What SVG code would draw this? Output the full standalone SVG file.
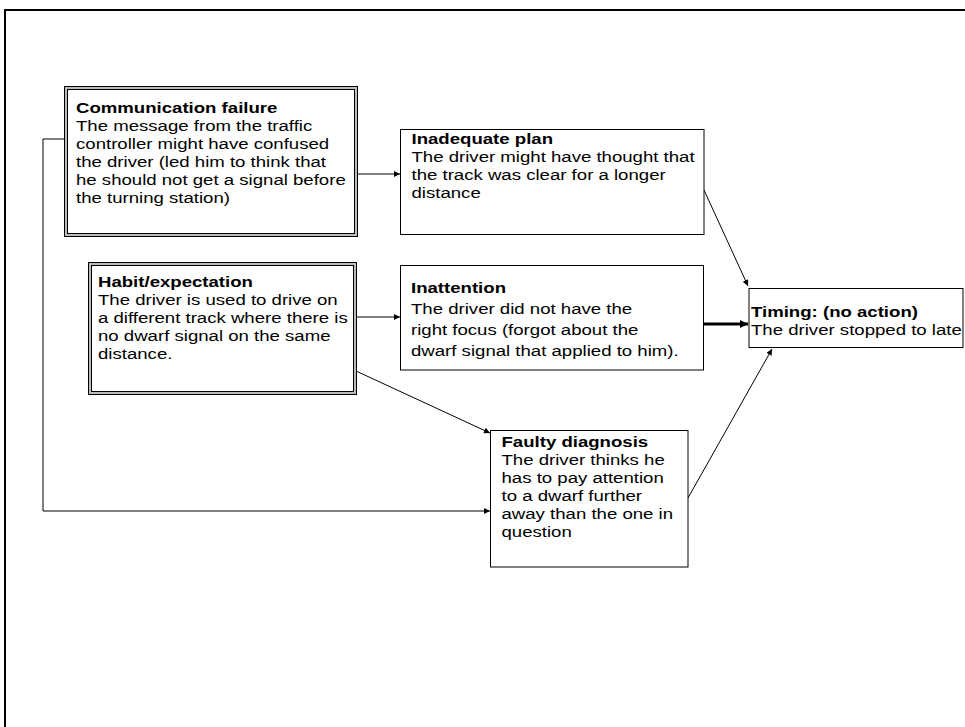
<svg xmlns="http://www.w3.org/2000/svg" width="965" height="727" viewBox="0 0 965 727">
  <style>
    .frame { fill: none; stroke: #000; stroke-width: 2; }
    .box { fill: #fff; stroke: #000; stroke-width: 1; }
    .dbl-out { fill: #fff; stroke: #000; stroke-width: 4; }
    .dbl-mid { fill: none; stroke: #bbb; stroke-width: 2; }
    .conn { fill: none; stroke: #000; stroke-width: 1; marker-end: url(#arrow); }
    .conn-thick { fill: none; stroke: #000; stroke-width: 3; marker-end: url(#arrow-thick); }
    text { font-family: "Liberation Sans", Arial, sans-serif; font-size: 15.5px; fill: #000; }
    .title { font-weight: bold; }
  </style>
  <defs>
    <marker id="arrow" viewBox="0 0 10 10" refX="10" refY="5" markerWidth="8" markerHeight="6" markerUnits="userSpaceOnUse" orient="auto">
      <path d="M0,0 L10,5 L0,10 z" fill="#000"/>
    </marker>
    <marker id="arrow-thick" viewBox="0 0 10 10" refX="10" refY="5" markerWidth="9" markerHeight="8" markerUnits="userSpaceOnUse" orient="auto">
      <path d="M0,0 L10,5 L0,10 z" fill="#000"/>
    </marker>
  </defs>

  <!-- page frame -->
  <path class="frame" d="M5,727 V10 H965"/>

  <!-- connectors -->
  <g id="connectors">
    <path class="conn" d="M357,174 H400"/>
    <path class="conn" d="M356,317 H400"/>
    <path class="conn" d="M356,371 L490,433"/>
    <path class="conn" d="M65,139 H43 V511 H490"/>
    <path class="conn" d="M704,190 L748,286"/>
    <path class="conn-thick" d="M703.5,324 H748"/>
    <path class="conn" d="M688,498 L772,349"/>
  </g>

  <g id="communication-failure">
    <rect class="dbl-out" x="66" y="88" width="290" height="147"/>
    <rect class="dbl-mid" x="66" y="88" width="290" height="147"/>
    <g transform="translate(76,0) scale(1.2,1)">
      <text class="title" x="0" y="113">Communication failure</text>
      <text x="0" y="131">The message from the traffic</text>
      <text x="0" y="149">controller might have confused</text>
      <text x="0" y="167">the driver (led him to think that</text>
      <text x="0" y="185">he should not get a signal before</text>
      <text x="0" y="203">the turning station)</text>
    </g>
  </g>

  <g id="inadequate-plan">
    <rect class="box" x="400.5" y="129.5" width="303.5" height="105"/>
    <g transform="translate(411.5,0) scale(1.2,1)">
      <text class="title" x="0" y="144">Inadequate plan</text>
      <text x="0" y="162">The driver might have thought that</text>
      <text x="0" y="180">the track was clear for a longer</text>
      <text x="0" y="198">distance</text>
    </g>
  </g>

  <g id="habit-expectation">
    <rect class="dbl-out" x="90" y="264" width="265" height="129"/>
    <rect class="dbl-mid" x="90" y="264" width="265" height="129"/>
    <g transform="translate(98,0) scale(1.2,1)">
      <text class="title" x="0" y="287">Habit/expectation</text>
      <text x="0" y="305">The driver is used to drive on</text>
      <text x="0" y="323">a different track where there is</text>
      <text x="0" y="341">no dwarf signal on the same</text>
      <text x="0" y="359">distance.</text>
    </g>
  </g>

  <g id="inattention">
    <rect class="box" x="400.5" y="265.5" width="303" height="104.5"/>
    <g transform="translate(411,0) scale(1.2,1)">
      <text class="title" x="0" y="293">Inattention</text>
      <text x="0" y="314">The driver did not have the</text>
      <text x="0" y="335">right focus (forgot about the</text>
      <text x="0" y="356">dwarf signal that applied to him).</text>
    </g>
  </g>

  <g id="timing">
    <rect class="box" x="749" y="288.5" width="214" height="59"/>
    <g transform="translate(751,0) scale(1.2,1)">
      <text class="title" x="0" y="317">Timing: (no action)</text>
      <text x="0" y="335">The driver stopped to late</text>
    </g>
  </g>

  <g id="faulty-diagnosis">
    <rect class="box" x="490.5" y="430.5" width="197.5" height="136.5"/>
    <g transform="translate(501.5,0) scale(1.2,1)">
      <text class="title" x="0" y="447">Faulty diagnosis</text>
      <text x="0" y="465">The driver thinks he</text>
      <text x="0" y="483">has to pay attention</text>
      <text x="0" y="501">to a dwarf further</text>
      <text x="0" y="519">away than the one in</text>
      <text x="0" y="537">question</text>
    </g>
  </g>
</svg>
